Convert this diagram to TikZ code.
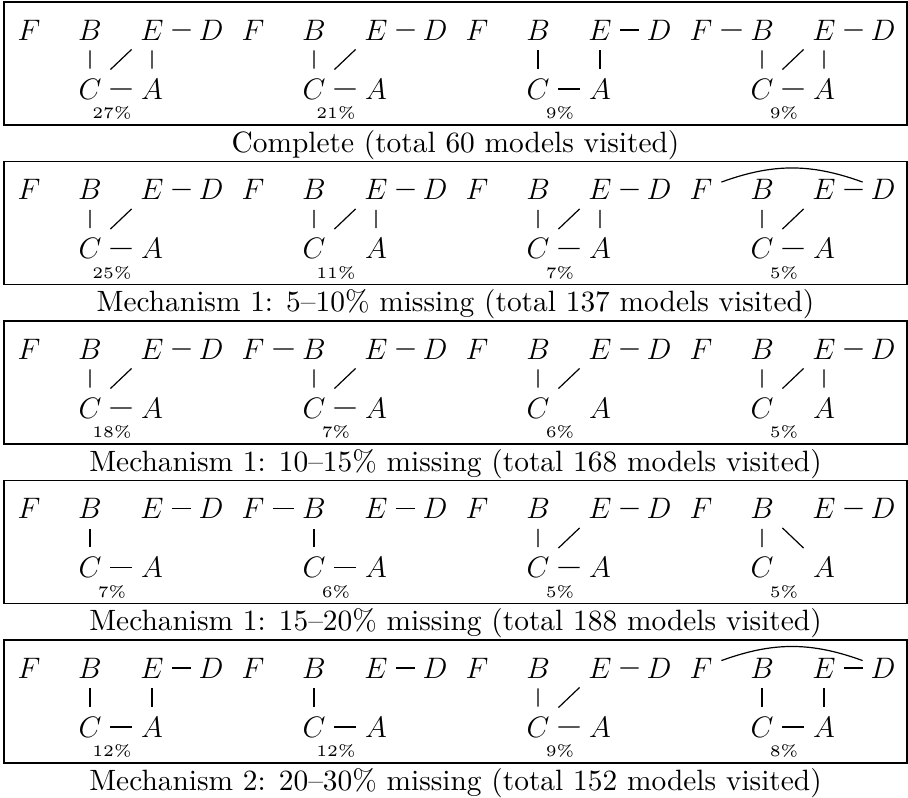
\RequirePackage{fix-cm}
\documentclass[tikz,border=0pt]{standalone}
\usepackage{tikz}
\usetikzlibrary{positioning}

\newcommand{\modelgraph}[4]{%
  \node[vtx] (#1F) at (#2,#3) {$F$};
  \node[vtx] (#1B) at (#2+61,#3) {$B$};
  \node[vtx] (#1E) at (#2+123,#3) {$E$};
  \node[vtx] (#1D) at (#2+182,#3) {$D$};
  \node[vtx] (#1C) at (#2+61,#3+59) {$C$};
  \node[vtx] (#1A) at (#2+123,#3+59) {$A$};
  \node[pct] (#1P) at (#2+83,#3+83) {#4\%};
}

\begin{document}
\begin{tikzpicture}[
  x=0.5pt, y=-0.5pt,
  vtx/.style={minimum width=20pt, minimum height=20pt, inner sep=0pt, font=\fontsize{14.8}{17}\selectfont},
  pct/.style={inner sep=0pt, scale=1.6, font=\fontsize{5}{6}\selectfont},
  edge/.style={line width=0.6pt},
  panel/.style={draw, line width=0.6pt, minimum width=451.5pt, minimum height=61.5pt, inner sep=0pt},
  caption/.style={inner sep=0pt, scale=1.47, font=\fontsize{10}{12}\selectfont}
]
  \useasboundingbox (0,0) rectangle (908,797);

  \node[panel] (box1) at (455.5,63.5) {};
  \node[panel] (box2) at (455.5,223) {};
  \node[panel] (box3) at (455.5,382.5) {};
  \node[panel] (box4) at (455.5,542) {};
  \node[panel] (box5) at (455.5,701.5) {};

  \node[caption, below=2pt of box1] (cap1) {Complete (total 60 models visited)};
  \node[caption, below=2pt of box2] (cap2) {Mechanism 1: 5--10\% missing (total 137 models visited)};
  \node[caption, below=2pt of box3] (cap3) {Mechanism 1: 10--15\% missing (total 168 models visited)};
  \node[caption, below=2pt of box4] (cap4) {Mechanism 1: 15--20\% missing (total 188 models visited)};
  \node[caption, below=2pt of box5] (cap5) {Mechanism 2: 20--30\% missing (total 152 models visited)};

  \modelgraph{p1g1}{29}{30}{27}
  \modelgraph{p1g2}{253}{30}{21}
  \modelgraph{p1g3}{477}{30}{9}
  \modelgraph{p1g4}{701}{30}{9}
  \draw[edge] (p1g1B) -- (p1g1C) (p1g1C) -- (p1g1E) (p1g1E) -- (p1g1A) (p1g1C) -- (p1g1A) (p1g1E) -- (p1g1D);
  \draw[edge] (p1g2B) -- (p1g2C) (p1g2C) -- (p1g2E) (p1g2C) -- (p1g2A) (p1g2E) -- (p1g2D);
  \draw[edge] (p1g3B) -- (p1g3C) (p1g3E) -- (p1g3A) (p1g3C) -- (p1g3A) (p1g3E) -- (p1g3D);
  \draw[edge] (p1g4F) -- (p1g4B) (p1g4B) -- (p1g4C) (p1g4C) -- (p1g4E) (p1g4E) -- (p1g4A) (p1g4C) -- (p1g4A) (p1g4E) -- (p1g4D);

  \modelgraph{p2g1}{29}{189.5}{25}
  \modelgraph{p2g2}{253}{189.5}{11}
  \modelgraph{p2g3}{477}{189.5}{7}
  \modelgraph{p2g4}{701}{189.5}{5}
  \draw[edge] (p2g1B) -- (p2g1C) (p2g1C) -- (p2g1E) (p2g1C) -- (p2g1A) (p2g1E) -- (p2g1D);
  \draw[edge] (p2g2B) -- (p2g2C) (p2g2C) -- (p2g2E) (p2g2E) -- (p2g2A) (p2g2E) -- (p2g2D);
  \draw[edge] (p2g3B) -- (p2g3C) (p2g3C) -- (p2g3E) (p2g3E) -- (p2g3A) (p2g3C) -- (p2g3A) (p2g3E) -- (p2g3D);
  \draw[edge] (p2g4F) to[bend left=20] (p2g4D);
  \draw[edge] (p2g4B) -- (p2g4C) (p2g4C) -- (p2g4E) (p2g4C) -- (p2g4A) (p2g4E) -- (p2g4D);

  \modelgraph{p3g1}{29}{349}{18}
  \modelgraph{p3g2}{253}{349}{7}
  \modelgraph{p3g3}{477}{349}{6}
  \modelgraph{p3g4}{701}{349}{5}
  \draw[edge] (p3g1B) -- (p3g1C) (p3g1C) -- (p3g1E) (p3g1C) -- (p3g1A) (p3g1E) -- (p3g1D);
  \draw[edge] (p3g2F) -- (p3g2B) (p3g2B) -- (p3g2C) (p3g2C) -- (p3g2E) (p3g2C) -- (p3g2A) (p3g2E) -- (p3g2D);
  \draw[edge] (p3g3B) -- (p3g3C) (p3g3C) -- (p3g3E) (p3g3E) -- (p3g3D);
  \draw[edge] (p3g4B) -- (p3g4C) (p3g4C) -- (p3g4E) (p3g4E) -- (p3g4A) (p3g4E) -- (p3g4D);

  \modelgraph{p4g1}{29}{508.5}{7}
  \modelgraph{p4g2}{253}{508.5}{6}
  \modelgraph{p4g3}{477}{508.5}{5}
  \modelgraph{p4g4}{701}{508.5}{5}
  \draw[edge] (p4g1B) -- (p4g1C) (p4g1C) -- (p4g1A) (p4g1E) -- (p4g1D);
  \draw[edge] (p4g2F) -- (p4g2B) (p4g2B) -- (p4g2C) (p4g2C) -- (p4g2A) (p4g2E) -- (p4g2D);
  \draw[edge] (p4g3B) -- (p4g3C) (p4g3C) -- (p4g3E) (p4g3C) -- (p4g3A) (p4g3E) -- (p4g3D);
  \draw[edge] (p4g4B) -- (p4g4C) (p4g4B) -- (p4g4A) (p4g4E) -- (p4g4D);

  \modelgraph{p5g1}{29}{668}{12}
  \modelgraph{p5g2}{253}{668}{12}
  \modelgraph{p5g3}{477}{668}{9}
  \modelgraph{p5g4}{701}{668}{8}
  \draw[edge] (p5g1B) -- (p5g1C) (p5g1E) -- (p5g1A) (p5g1C) -- (p5g1A) (p5g1E) -- (p5g1D);
  \draw[edge] (p5g2B) -- (p5g2C) (p5g2C) -- (p5g2A) (p5g2E) -- (p5g2D);
  \draw[edge] (p5g3B) -- (p5g3C) (p5g3C) -- (p5g3E) (p5g3C) -- (p5g3A) (p5g3E) -- (p5g3D);
  \draw[edge] (p5g4F) to[bend left=20] (p5g4D);
  \draw[edge] (p5g4B) -- (p5g4C) (p5g4E) -- (p5g4A) (p5g4C) -- (p5g4A) (p5g4E) -- (p5g4D);
\end{tikzpicture}
\end{document}
